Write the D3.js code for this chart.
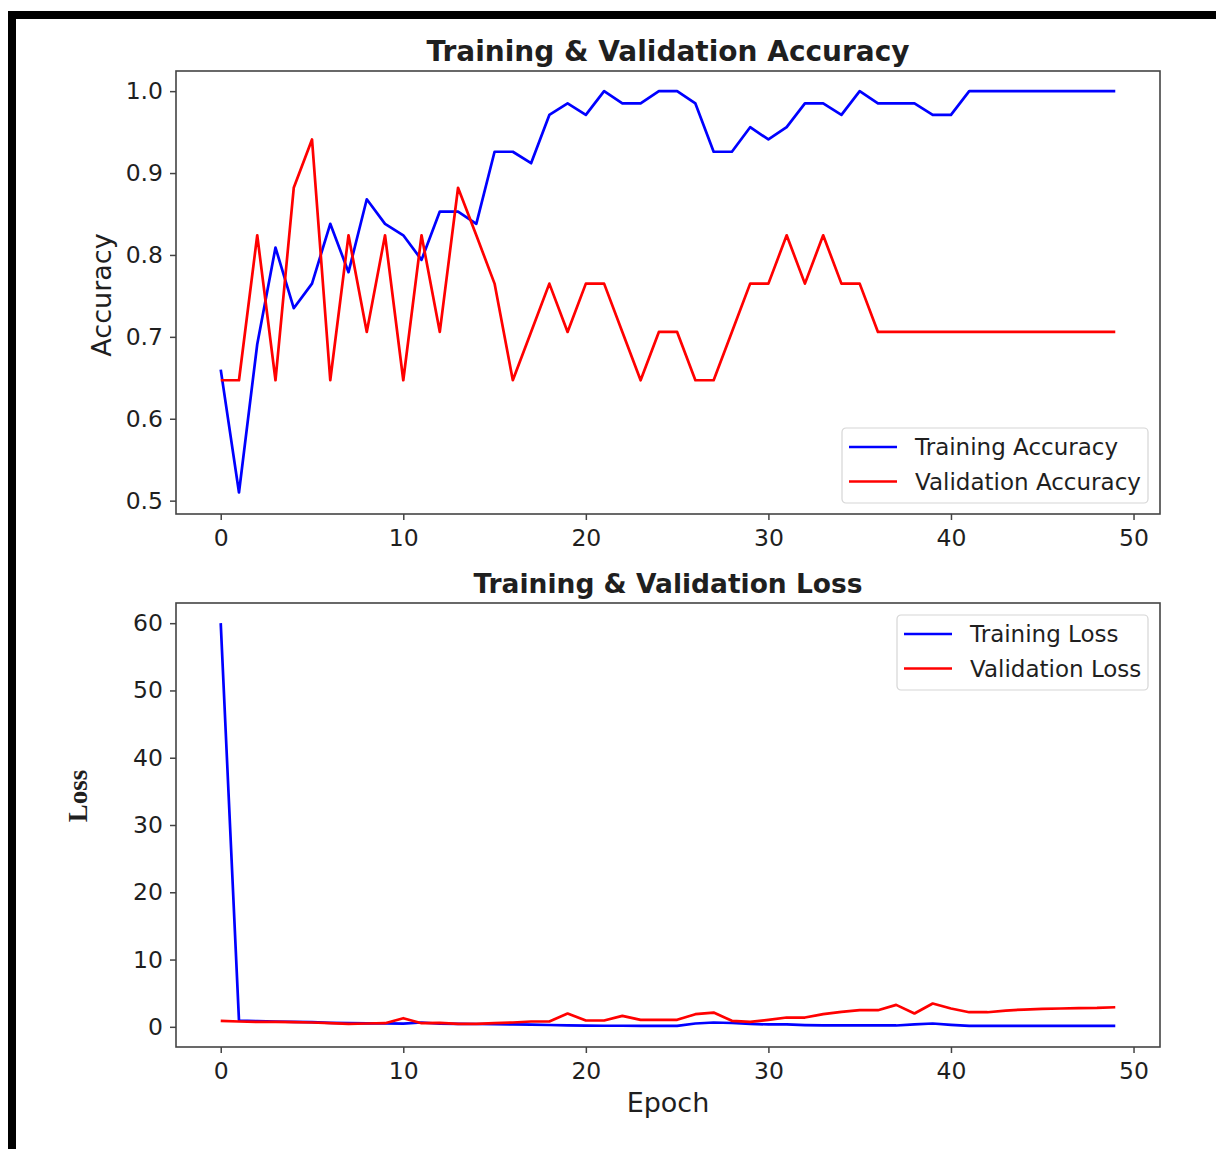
<!DOCTYPE html>
<html>
<head>
<meta charset="utf-8">
<script src="https://cdn.jsdelivr.net/npm/d3@7"></script>
<style>
  body { margin: 0; background: #fff; }
  text { font-family: "DejaVu Sans", sans-serif; fill: #1f1f1f; }
</style>
</head>
<body>
<div id="chart"></div>
<script>
// Epochs and history values
var epochs = d3.range(0, 50);

var trainAcc = [0.660, 0.510, 0.691, 0.809, 0.735, 0.765, 0.838, 0.779, 0.868, 0.838,
    0.824, 0.794, 0.853, 0.853, 0.838, 0.926, 0.926, 0.912, 0.971, 0.985,
    0.971, 1.000, 0.985, 0.985, 1.000, 1.000, 0.985, 0.926, 0.926, 0.956,
    0.941, 0.956, 0.985, 0.985, 0.971, 1.000, 0.985, 0.985, 0.985, 0.971,
    0.971, 1.000, 1.000, 1.000, 1.000, 1.000, 1.000, 1.000, 1.000, 1.000];

var valAcc = [0.647, 0.647, 0.824, 0.647, 0.882, 0.941, 0.647, 0.824, 0.706, 0.824,
    0.647, 0.824, 0.706, 0.882, 0.824, 0.765, 0.647, 0.706, 0.765, 0.706,
    0.765, 0.765, 0.706, 0.647, 0.706, 0.706, 0.647, 0.647, 0.706, 0.765,
    0.765, 0.824, 0.765, 0.824, 0.765, 0.765, 0.706, 0.706, 0.706, 0.706,
    0.706, 0.706, 0.706, 0.706, 0.706, 0.706, 0.706, 0.706, 0.706, 0.706];

var trainLoss = [60.0, 0.94, 0.84, 0.79, 0.74, 0.69, 0.60, 0.54, 0.52, 0.50,
    0.48, 0.64, 0.46, 0.44, 0.42, 0.40, 0.37, 0.34, 0.27, 0.22,
    0.18, 0.16, 0.16, 0.15, 0.15, 0.15, 0.49, 0.64, 0.57, 0.44,
    0.35, 0.35, 0.25, 0.20, 0.20, 0.20, 0.20, 0.20, 0.35, 0.49,
    0.30, 0.15, 0.15, 0.15, 0.15, 0.15, 0.15, 0.15, 0.15, 0.15];

var valLoss = [0.89, 0.79, 0.74, 0.74, 0.69, 0.64, 0.54, 0.44, 0.49, 0.54,
    1.28, 0.54, 0.59, 0.44, 0.44, 0.54, 0.64, 0.79, 0.79, 1.98,
    0.94, 0.94, 1.63, 1.04, 1.04, 1.04, 1.88, 2.12, 0.89, 0.74,
    1.04, 1.38, 1.38, 1.88, 2.22, 2.47, 2.47, 3.26, 1.98, 3.46,
    2.72, 2.17, 2.17, 2.42, 2.57, 2.67, 2.72, 2.77, 2.81, 2.91];

var xTicks = [0, 10, 20, 30, 40, 50];
var accTicks = [0.5, 0.6, 0.7, 0.8, 0.9, 1.0];
var lossTicks = [0, 10, 20, 30, 40, 50, 60];

var svgWidth = 1216;
var svgHeight = 1149;

var svg = d3.select("#chart")
    .append("svg")
    .attr("width", svgWidth)
    .attr("height", svgHeight);

svg.append("rect")
    .attr("width", svgWidth)
    .attr("height", svgHeight)
    .attr("fill", "#fff");

// Black frame on top and left (picture is cropped on the other sides)
svg.append("rect")
    .attr("x", 8).attr("y", 11)
    .attr("width", svgWidth - 8).attr("height", 8)
    .attr("fill", "#000");
svg.append("rect")
    .attr("x", 8).attr("y", 11)
    .attr("width", 8).attr("height", svgHeight - 11)
    .attr("fill", "#000");

var axLeft = 176;
var axRight = 1160;

var xScale = d3.scaleLinear()
    .domain([-2.45, 51.45])
    .range([axLeft, axRight]);

function drawPanel(opts) {
    var yScale = d3.scaleLinear()
        .domain(opts.domain)
        .range([opts.bottom, opts.top]);

    var g = svg.append("g");

    // Lines
    var line = d3.line()
        .x((d, i) => xScale(epochs[i]))
        .y(d => yScale(d));

    opts.series.forEach(function(s) {
        g.append("path")
            .datum(s.values)
            .attr("fill", "none")
            .attr("stroke", s.color)
            .attr("stroke-width", 2.7)
            .attr("stroke-linejoin", "round")
            .attr("d", line);
    });

    // Axes
    var xAxis = d3.axisBottom(xScale).tickValues(xTicks).tickSize(6).tickPadding(9);
    var yAxis = d3.axisLeft(yScale).tickValues(opts.ticks).tickSize(6).tickPadding(7)
        .tickFormat(opts.format);

    var gx = g.append("g")
        .attr("transform", `translate(0, ${opts.bottom})`)
        .call(xAxis);
    var gy = g.append("g")
        .attr("transform", `translate(${axLeft}, 0)`)
        .call(yAxis);

    [gx, gy].forEach(function(a) {
        a.select(".domain").remove();
        a.selectAll(".tick line").attr("stroke", "#444").attr("stroke-width", 1.5);
        a.selectAll(".tick text")
            .attr("font-family", "DejaVu Sans")
            .attr("font-size", 23.5)
            .attr("fill", "#1f1f1f");
    });

    // Frame
    g.append("rect")
        .attr("x", axLeft)
        .attr("y", opts.top)
        .attr("width", axRight - axLeft)
        .attr("height", opts.bottom - opts.top)
        .attr("fill", "none")
        .attr("stroke", "#444")
        .attr("stroke-width", 1.6);

    // Title
    g.append("text")
        .attr("x", (axLeft + axRight) / 2)
        .attr("y", opts.top - 10)
        .attr("text-anchor", "middle")
        .attr("font-weight", "bold")
        .attr("font-size", opts.titleSize)
        .text(opts.title);

    // Legend
    var lg = g.append("g")
        .attr("transform", `translate(${opts.legend.x}, ${opts.legend.y})`);
    lg.append("rect")
        .attr("width", opts.legend.w)
        .attr("height", 75)
        .attr("rx", 4)
        .attr("fill", "#fff")
        .attr("fill-opacity", 0.8)
        .attr("stroke", "#d6d6d6")
        .attr("stroke-width", 1.2);
    opts.series.forEach(function(s, i) {
        var yy = 19 + i * 34.5;
        lg.append("line")
            .attr("x1", 7).attr("x2", 55)
            .attr("y1", yy).attr("y2", yy)
            .attr("stroke", s.color)
            .attr("stroke-width", 2.7);
        lg.append("text")
            .attr("x", 73)
            .attr("y", yy + 8)
            .attr("font-size", 23)
            .attr("fill", "#2a2a2a")
            .text(s.name);
    });

    return g;
}

drawPanel({
    top: 71, bottom: 514,
    domain: [0.4837, 1.0246],
    ticks: accTicks,
    format: d3.format(".1f"),
    title: "Training & Validation Accuracy",
    titleSize: 28,
    series: [
        { name: "Training Accuracy", values: trainAcc, color: "#0000ff" },
        { name: "Validation Accuracy", values: valAcc, color: "#ff0000" }
    ],
    legend: { x: 842, y: 428, w: 306 }
});

drawPanel({
    top: 603, bottom: 1047,
    domain: [-3, 63],
    ticks: lossTicks,
    format: d3.format("d"),
    title: "Training & Validation Loss",
    titleSize: 26.5,
    series: [
        { name: "Training Loss", values: trainLoss, color: "#0000ff" },
        { name: "Validation Loss", values: valLoss, color: "#ff0000" }
    ],
    legend: { x: 897, y: 615, w: 251 }
});

// Axis labels
svg.append("text")
    .attr("transform", "translate(111, 295) rotate(-90)")
    .attr("text-anchor", "middle")
    .attr("font-size", 27)
    .text("Accuracy");

svg.append("text")
    .attr("transform", "translate(87, 796) rotate(-90)")
    .attr("text-anchor", "middle")
    .attr("font-weight", "bold")
    .attr("font-size", 27)
    .style("font-family", "'Liberation Serif', serif")
    .text("Loss");

svg.append("text")
    .attr("x", 668)
    .attr("y", 1112)
    .attr("text-anchor", "middle")
    .attr("font-size", 27)
    .text("Epoch");
</script>
</body>
</html>
